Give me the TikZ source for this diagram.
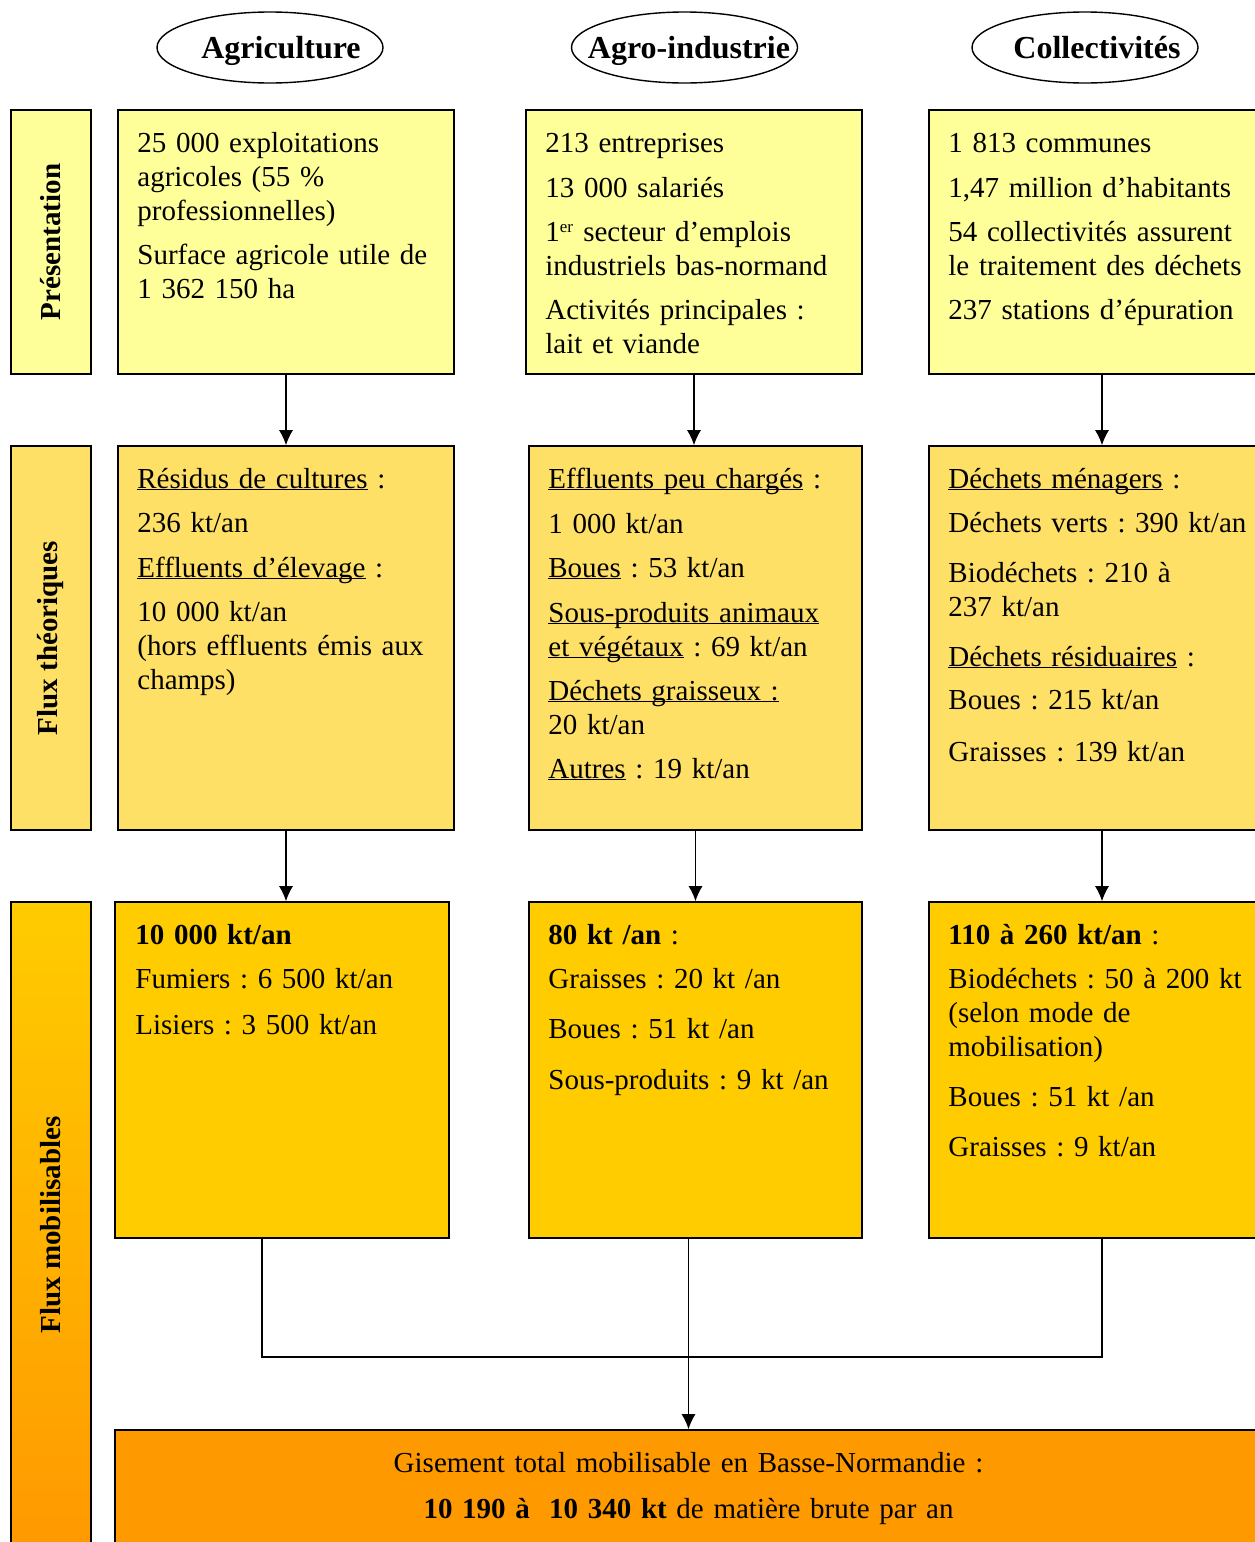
\documentclass[tikz,border=0pt]{standalone}
\usepackage{fontspec}
\setmainfont{Liberation Serif}
\usetikzlibrary{arrows.meta,positioning,calc,shapes.geometric}
\definecolor{presfill}{HTML}{FFFF99}
\definecolor{fluxfill}{HTML}{FFE066}
\definecolor{mobfill}{HTML}{FFCC00}
\definecolor{totalfill}{HTML}{FF9900}
\newcommand{\souligne}[1]{\underline{\smash{#1}}}
\newcommand{\sectortitle}[2]{\makebox[0pt]{\hspace{#1pt}#2}}
\tikzset{sector/.style={ellipse,draw,line width=1.4pt,minimum width=226,minimum height=71,inner sep=0pt,text height=22pt,text depth=0pt,font=\fontsize{32}{38}\selectfont\bfseries},stage/.style={rectangle,draw,line width=1.6pt,minimum width=80,inner sep=0pt},stagelabel/.style={rotate=90,inner sep=0pt,font=\fontsize{29}{34}\selectfont\bfseries},infobox/.style={rectangle,draw,line width=1.6pt,inner sep=0pt},boxtext/.style={anchor=base west,inner sep=0pt,text width=330,align=left,font=\fontsize{29}{34}\selectfont},flow/.style={-{Latex[length=15pt,width=14pt]},line width=1.3pt},link/.style={line width=1.3pt}}
\begin{document}
\frenchspacing
\begin{tikzpicture}[x=1pt,y=-1pt]
\useasboundingbox (0,0) rectangle (1255,1542);
% sectors
\node[sector] (agri) at (270,47.5) {\sectortitle{22}{Agriculture}};
\node[sector] (agro) at (684.5,47.5) {\sectortitle{9}{Agro-industrie}};
\node[sector] (coll) at (1085,47.5) {\sectortitle{24}{Collectivités}};
% stages on the left
\node[stage,fill=presfill,minimum height=264] (s1) at (51,242) {};
\node[stage,fill=fluxfill,minimum height=384] (s2) at (51,638) {};
\node[stage,top color=mobfill,bottom color=totalfill,minimum height=646] (s3) at (51,1225) {};
\node[stagelabel] (s1l) at (s1) {Présentation};
\node[stagelabel] (s2l) at (s2) {Flux théoriques};
\node[stagelabel] (s3l) at (s3) {Flux mobilisables};
% boxes
\foreach \n/\x/\w in {1/286/336,2/694/336,3/1102/346}{\node[infobox,fill=presfill,minimum width=\w,minimum height=264] (p\n) at (\x,242) {};}
\foreach \n/\x/\w in {1/286/336,2/695.5/333,3/1102/346}{\node[infobox,fill=fluxfill,minimum width=\w,minimum height=384] (f\n) at (\x,638) {};}
\foreach \n/\x/\w in {1/282/334,2/695.5/333,3/1102/346}{\node[infobox,fill=mobfill,minimum width=\w,minimum height=336] (m\n) at (\x,1070) {};}
\node[infobox,fill=totalfill,minimum width=1147,minimum height=118] (tot) at (688.5,1489) {};
% texts
\node[boxtext] (p1t) at ($(p1.north west)+(20,43)$) {25 000 exploitations\\agricoles (55 \%\\professionnelles)\\[10pt]Surface agricole utile de\\1 362 150 ha};
\node[boxtext] (p2t) at ($(p2.north west)+(20,43)$) {213 entreprises\\[11pt]13 000 salariés\\[10pt]1\textsuperscript{\fontsize{17}{17}\selectfont er} secteur d’emplois\\industriels bas-normand\\[10pt]Activités principales :\\lait et viande};
\node[boxtext] (p3t) at ($(p3.north west)+(20,43)$) {1 813 communes\\[11pt]1,47 million d’habitants\\[10pt]54 collectivités assurent\\le traitement des déchets\\[10pt]237 stations d’épuration};
\node[boxtext] (f1t) at ($(f1.north west)+(20,43)$) {\souligne{Résidus de cultures} :\\[10pt]236 kt/an\\[11pt]\souligne{Effluents d’élevage} :\\[10pt]10 000 kt/an\\(hors effluents émis aux\\champs)};
\node[boxtext] (f2t) at ($(f2.north west)+(20,43)$) {\souligne{Effluents peu chargés} :\\[11pt]1 000 kt/an\\[10pt]\souligne{Boues} : 53 kt/an\\[11pt]\souligne{Sous-produits animaux}\\\souligne{et végétaux} : 69 kt/an\\[10pt]\souligne{Déchets graisseux :}\\20 kt/an\\[10pt]\souligne{Autres} : 19 kt/an};
\node[boxtext] (f3t) at ($(f3.north west)+(20,43)$) {\souligne{Déchets ménagers} :\\[10pt]Déchets verts : 390 kt/an\\[16pt]Biodéchets : 210 à\\237 kt/an\\[16pt]\souligne{Déchets résiduaires} :\\[9pt]Boues : 215 kt/an\\[18pt]Graisses : 139 kt/an};
\node[boxtext] (m1t) at ($(m1.north west)+(21,43)$) {\textbf{10 000 kt/an}\\[10pt]Fumiers : 6 500 kt/an\\[12pt]Lisiers : 3 500 kt/an};
\node[boxtext] (m2t) at ($(m2.north west)+(20,43)$) {\textbf{80 kt /an} :\\[10pt]Graisses : 20 kt /an\\[16pt]Boues : 51 kt /an\\[17pt]Sous-produits : 9 kt /an};
\node[boxtext] (m3t) at ($(m3.north west)+(20,43)$) {\textbf{110 à 260 kt/an} :\\[10pt]Biodéchets : 50 à 200 kt\\(selon mode de\\mobilisation)\\[16pt]Boues : 51 kt /an\\[16pt]Graisses : 9 kt/an};
\node[anchor=base,inner sep=0pt,text width=1100,align=center,font=\fontsize{29}{34}\selectfont] (tott) at ($(tot.north)+(0,43)$) {Gisement total mobilisable en Basse-Normandie :\\[12pt]\textbf{10 190 à\ \ 10 340 kt} de matière brute par an};
% connectors
\foreach \a/\b in {p1/f1,p2/f2,p3/f3,f1/m1,f2/m2,f3/m3}{\draw[flow] (\a.south) -- (\a.south |- \b.north);}
\coordinate (merge) at ($(m2.south)!0.62!(tot.north)$);
\draw[link] ($(m1.south west)!0.44!(m1.south east)$) |- (merge -| m3.south) -- (m3.south);
\draw[flow] (tot.north |- m2.south) -- (tot.north);
\end{tikzpicture}
\end{document}
